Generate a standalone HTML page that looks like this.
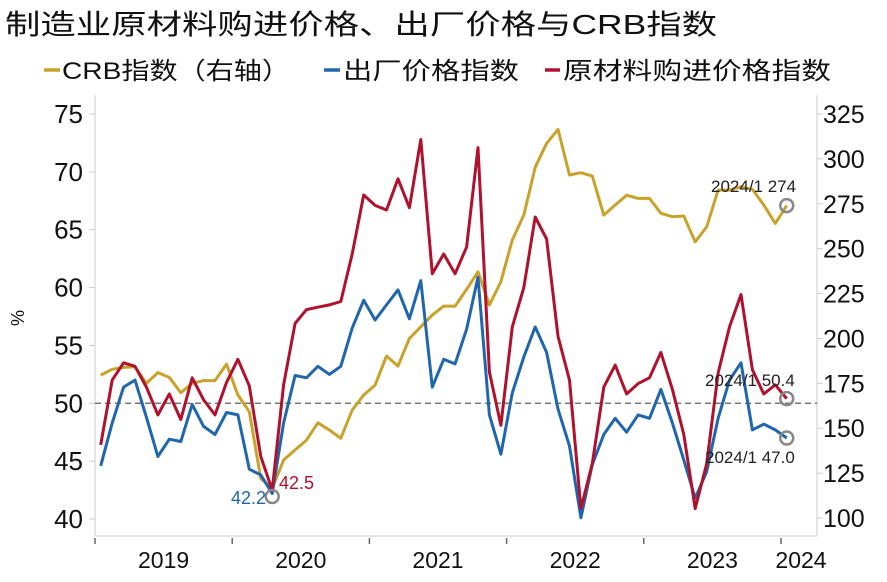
<!DOCTYPE html>
<html><head><meta charset="utf-8"><style>
html,body{margin:0;padding:0;background:#fff;}
body{width:887px;height:577px;overflow:hidden;font-family:"Liberation Sans","Noto Sans CJK SC",sans-serif;}
</style></head><body>
<svg id="chart" width="887" height="577" xmlns="http://www.w3.org/2000/svg" font-family="Liberation Sans, Noto Sans CJK SC, sans-serif">
<text x="5" y="34" font-size="28" fill="#111" textLength="712" lengthAdjust="spacingAndGlyphs">制造业原材料购进价格、出厂价格与CRB指数</text>
<g>
 <g><line x1="44" y1="70" x2="60" y2="70" stroke="#c9a22b" stroke-width="3.5"/><text x="62" y="79" font-size="24" fill="#111" textLength="228" lengthAdjust="spacingAndGlyphs">CRB指数（右轴）</text></g>
 <g><line x1="324" y1="70" x2="340" y2="70" stroke="#2066ad" stroke-width="3.5"/><text x="343" y="79" font-size="24" fill="#111" textLength="176" lengthAdjust="spacingAndGlyphs">出厂价格指数</text></g>
 <g><line x1="545" y1="70" x2="560" y2="70" stroke="#b0122e" stroke-width="3.5"/><text x="563" y="79" font-size="24" fill="#111" textLength="268" lengthAdjust="spacingAndGlyphs">原材料购进价格指数</text></g>
</g>
<g id="axes"></g>
<g id="series"></g>
<g id="annot"></g>
</svg>
<script>
const years = ["2019","2020","2021","2022","2023","2024"];
const leftTicks = [40,45,50,55,60,65,70,75];
const rightTicks = [100,125,150,175,200,225,250,275,300,325];
const outputPrice = [44.6,48.3,51.4,52.0,48.8,45.4,46.9,46.7,49.9,48.0,47.3,49.2,49.0,44.3,43.8,42.2,48.3,52.4,52.2,53.2,52.5,53.2,56.5,58.9,57.2,58.5,59.8,57.3,60.6,51.4,53.8,53.4,56.4,60.9,49.0,45.6,50.9,54.0,56.6,54.4,49.5,46.3,40.1,44.7,47.3,48.7,47.5,49.0,48.7,51.2,48.3,45.1,41.8,44.1,48.7,52.0,53.5,47.7,48.2,47.7,47.0];
const inputPrice = [46.4,52.0,53.5,53.2,51.4,49.0,50.8,48.6,52.2,50.3,49.0,51.8,53.8,51.5,45.4,42.5,51.6,56.9,58.1,58.3,58.5,58.8,62.9,68.0,67.1,66.7,69.4,66.9,72.8,61.2,62.9,61.2,63.5,72.1,52.7,48.1,56.6,60.0,66.1,64.2,55.8,52.0,40.9,44.8,51.4,53.3,50.8,51.7,52.2,54.4,51.2,47.3,40.9,44.8,52.6,56.6,59.4,52.9,50.8,51.6,50.4];
const crb = [179.6,182.8,183.9,184.2,175,181,178.3,169.8,175,176.5,176.5,185.7,168.5,159.2,122,116.5,132.3,137.9,143.4,153,149,144.4,160.1,168.5,174,190.2,184.6,200,206.5,213,218,218,227.3,237.1,218.6,231.6,254.8,268.7,295.3,308.6,316.4,291,292.3,290.4,268.7,274.3,279.8,278,278,269.7,267.8,268.2,253.8,262.2,282.6,282.6,284.5,283,274.3,264,274];

const NS="http://www.w3.org/2000/svg";
const X0=95, YEARW=137.2, PLOTL=95, PLOTR=817, PLOTB=536;
const yL=v=>519-(v-40)*405/35;
const yR=v=>518-(v-100)*404/225;
const xM=i=>X0+YEARW/12*(i+0.5);
function mk(tag,attrs,parent){const e=document.createElementNS(NS,tag);for(const k in attrs)e.setAttribute(k,attrs[k]);parent.appendChild(e);return e;}
const axes=document.getElementById('axes'), ser=document.getElementById('series'), ann=document.getElementById('annot');

let e;
e=mk('line',{x1:PLOTL,y1:95,x2:PLOTL,y2:PLOTB,stroke:'#ccc','stroke-width':1},axes);


e=mk('line',{x1:PLOTR,y1:95,x2:PLOTR,y2:PLOTB,stroke:'#ccc','stroke-width':1},axes);


e=mk('line',{x1:PLOTL,y1:PLOTB,x2:PLOTR,y2:PLOTB,stroke:'#ccc','stroke-width':1},axes);


e=mk('line',{x1:PLOTL,y1:yL(50),x2:PLOTR,y2:yL(50),stroke:'#777','stroke-width':1.5,'stroke-dasharray':'6,4'},axes);



leftTicks.forEach(v=>{
 mk('line',{x1:PLOTL-6,y1:yL(v),x2:PLOTL,y2:yL(v),stroke:'#ccc'},axes);
 const t=mk('text',{x:PLOTL-12,y:yL(v)+9,'text-anchor':'end','font-size':26,fill:'#111'},axes);
 t.textContent=v;
 
 
});
rightTicks.forEach(v=>{
 mk('line',{x1:PLOTR,y1:yR(v),x2:PLOTR+6,y2:yR(v),stroke:'#ccc'},axes);
 const t=mk('text',{x:PLOTR+6,y:yR(v)+9,'font-size':25,fill:'#111'},axes);
 t.textContent=v;
 
 
});
years.forEach((y,i)=>{
 const xt=X0+YEARW*i;
 mk('line',{x1:xt,y1:PLOTB+2,x2:xt,y2:PLOTB+8,stroke:'#666','stroke-width':1.5},axes);
 const cx = i<years.length-1 ? xt+YEARW/2 : xt+20;
 const t=mk('text',{x:cx,y:568,'text-anchor':'middle','font-size':23,fill:'#111'},axes);
 t.textContent=y;
 
 
});
const yt=mk('text',{x:0,y:0,'font-size':18,fill:'#111',transform:'translate(24,318) rotate(-90)','text-anchor':'middle'},axes);
yt.textContent='%';



function line(arr,fy,color,name){
 const p=mk('polyline',{points:arr.map((v,i)=>xM(i).toFixed(1)+','+fy(v).toFixed(1)).join(' '),fill:'none',stroke:color,'stroke-width':3,'stroke-linejoin':'round'},ser);
 
 
}
line(crb,yR,'#c9a22b','crb-line');
line(outputPrice,yL,'#2066ad','output-price-line');
line(inputPrice,yL,'#b0122e','input-price-line');

function circ(x,y,name){
 const c=mk('circle',{cx:x,cy:y,r:6.5,fill:'none',stroke:'#888','stroke-width':2.5},ann);
 
 
}
function lbl(x,y,txt,color,size,name){
 const t=mk('text',{x:x,y:y,'font-size':size,fill:color},ann);
 t.textContent=txt;
 
 
}
const last=crb.length-1;
circ(xM(15),yL(outputPrice[15])+3,'min-marker-2020');
lbl(231,504,outputPrice[15].toFixed(1),'#2066ad',18,'output-min-label');
lbl(279,489,inputPrice[15].toFixed(1),'#b0122e',18,'input-min-label');
circ(xM(last),yR(crb[last]),'crb-latest-marker');
circ(xM(last),yL(inputPrice[last]),'input-latest-marker');
circ(xM(last),yL(outputPrice[last]),'output-latest-marker');
lbl(711,192,'2024/1 '+crb[last],'#222',17,'crb-latest-label');
lbl(705,386,'2024/1 '+inputPrice[last].toFixed(1),'#222',17,'input-latest-label');
lbl(705,463,'2024/1 '+outputPrice[last].toFixed(1),'#222',17,'output-latest-label');
</script>
</body></html>
